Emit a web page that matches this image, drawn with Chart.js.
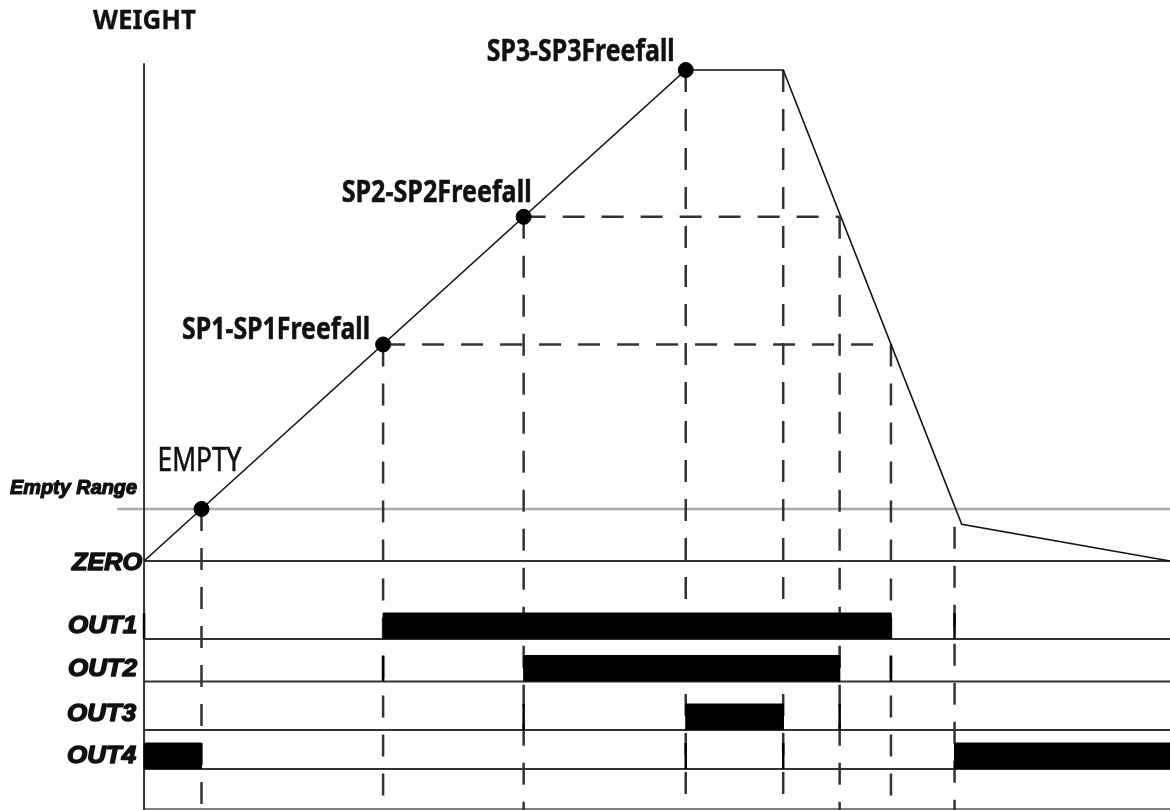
<!DOCTYPE html>
<html>
<head>
<meta charset="utf-8">
<title>Weight / Output timing</title>
<script src="https://cdn.jsdelivr.net/npm/chart.js@4.4.0/dist/chart.umd.min.js"></script>
<style>
  html, body { margin: 0; padding: 0; background: #fff; }
  #wrap { width: 1170px; height: 810px; }
</style>
</head>
<body>
<div id="wrap"><canvas id="timing" width="1170" height="810"></canvas></div>
<script>
// ---- data (time in % of cycle, weight in % of SP3) ----
const axisTitle = 'WEIGHT';
const weightTimes = [0, 52.8, 62.3, 79.7, 100];
const weightValues = [0, 100, 100, 7.5, 0];

const setPointNames = ['EMPTY', 'SP1-SP1Freefall', 'SP2-SP2Freefall', 'SP3-SP3Freefall'];
const setPointTimes = [5.6, 23.3, 37.0, 52.8];
const setPointValues = [10.6, 44.1, 70.1, 100];
const emptyRange = 10.6;

// where the discharge crosses SP3 hold end, SP2, SP1 and empty
const releaseTimes = [62.3, 67.8, 72.8, 79.0];
const releaseValues = [100, 70.1, 44.1, 7];

const levelNames = ['Empty Range', 'ZERO'];
const outputNames = ['OUT1', 'OUT2', 'OUT3', 'OUT4'];
const outputOn = [
  [[23.3, 72.8]],
  [[37.0, 67.8]],
  [[52.8, 62.3]],
  [[0, 5.6], [79.0, 100]]
];
const outputEdges = [[0, 79.0], [23.3, 72.8], [37.0, 67.8], [52.8, 62.3]];

// ---- layout (scale ranges, row levels, label boxes) ----
const X_MIN = -14.04, X_MAX = 100;
const W_MIN = -50.71, W_MAX = 114.26;
const R_MIN = 0.054, R_MAX = 18.747;
const rowLevels = [4, 3.02, 1.9, 1];
const highHeight = 0.6;
const edgeHeight = 0.6;
const axisTop = 101.4;
const rangeStart = -2.63;
const bottomLevel = 0.077;

const INK = '#111';
const LINE = '#333';
const DASH = [22, 17];

function seg(points, opts) {
  return Object.assign({
    data: points,
    showLine: true,
    pointRadius: 0,
    borderColor: LINE,
    borderWidth: 2,
    fill: false,
    tension: 0,
    yAxisID: 'y'
  }, opts || {});
}

const datasets = [];

// vertical axis
datasets.push(seg([{ x: 0, y: W_MIN }, { x: 0, y: axisTop }], { order: 6 }));

// zero and empty range lines
datasets.push(seg([{ x: 0, y: 0 }, { x: X_MAX, y: 0 }], { order: 6 }));
datasets.push(seg([{ x: rangeStart, y: emptyRange }, { x: X_MAX, y: emptyRange }],
  { borderColor: '#ababab', borderWidth: 2.5, order: 7 }));

// output baselines
rowLevels.forEach((lv) => {
  datasets.push(seg([{ x: 0, y: lv }, { x: X_MAX, y: lv }], { yAxisID: 'y2', order: 6 }));
});
datasets.push(seg([{ x: 0, y: bottomLevel }, { x: X_MAX, y: bottomLevel }],
  { yAxisID: 'y2', borderColor: '#555', borderWidth: 1.5, order: 6 }));

// dashed guides
setPointTimes.forEach((t, i) => {
  datasets.push(seg([{ x: t, y: setPointValues[i] }, { x: t, y: W_MIN }],
    { borderDash: DASH, borderWidth: 2.5, order: 5 }));
});
releaseTimes.forEach((t, i) => {
  datasets.push(seg([{ x: t, y: releaseValues[i] }, { x: t, y: W_MIN }],
    { borderDash: DASH, borderWidth: 2.5, order: 5 }));
});
datasets.push(seg([{ x: setPointTimes[1], y: setPointValues[1] }, { x: releaseTimes[2], y: setPointValues[1] }],
  { borderDash: DASH, borderWidth: 2.5, order: 5 }));
datasets.push(seg([{ x: setPointTimes[2], y: setPointValues[2] }, { x: releaseTimes[1], y: setPointValues[2] }],
  { borderDash: DASH, borderWidth: 2.5, order: 5 }));

// output "on" blocks
outputOn.forEach((spans, r) => {
  const base = rowLevels[r];
  spans.forEach(([t0, t1]) => {
    datasets.push(seg([
      { x: t0, y: base }, { x: t0, y: base + highHeight },
      { x: t1, y: base + highHeight }, { x: t1, y: base }
    ], {
      yAxisID: 'y2',
      borderColor: '#000',
      borderWidth: 1,
      backgroundColor: '#000',
      fill: { value: base },
      order: 3
    }));
  });
});

// output switching edges
outputEdges.forEach((edges, r) => {
  const base = rowLevels[r];
  edges.forEach((t) => {
    datasets.push(seg([{ x: t, y: base }, { x: t, y: base + edgeHeight }],
      { yAxisID: 'y2', borderColor: '#000', borderWidth: 2.5, order: 4 }));
  });
});

// weight trace
datasets.push(seg(weightTimes.map((t, i) => ({ x: t, y: weightValues[i] })),
  { borderColor: INK, borderWidth: 1.6, order: 2 }));

// set point dots
datasets.push({
  data: setPointTimes.map((t, i) => ({ x: t, y: setPointValues[i] })),
  showLine: false,
  pointRadius: 7.5,
  pointBackgroundColor: '#000',
  pointBorderColor: '#000',
  yAxisID: 'y',
  order: 1
});

function fitText(ctx, text, font, left, baseline, width, stroke) {
  ctx.font = font;
  const w = ctx.measureText(text).width;
  ctx.save();
  ctx.translate(left, baseline);
  ctx.scale(width / w, 1);
  ctx.textAlign = 'left';
  ctx.textBaseline = 'alphabetic';
  ctx.fillStyle = INK;
  ctx.fillText(text, 0, 0);
  if (stroke) {
    ctx.strokeStyle = INK;
    ctx.lineWidth = stroke;
    ctx.lineJoin = 'round';
    ctx.strokeText(text, 0, 0);
  }
  ctx.restore();
}

const pointLabelBoxes = [
  { font: '33px "Noto Sans"', dx: -44, dy: -38, w: 84, stroke: 0.6 },
  { font: 'bold 30px "Noto Sans"', dx: -201, dy: -5, w: 188, stroke: 0.5 },
  { font: 'bold 30px "Noto Sans"', dx: -182, dy: -15, w: 190, stroke: 0.5 },
  { font: 'bold 30px "Noto Sans"', dx: -199, dy: -9, w: 188, stroke: 0.5 }
];
const sideFont = '"Liberation Sans", Arial, sans-serif';

const labelPlugin = {
  id: 'labels',
  afterDatasetsDraw(chart) {
    const { ctx } = chart;
    const xs = chart.scales.x, ys = chart.scales.y, rs = chart.scales.y2;
    const x0 = xs.getPixelForValue(0);

    fitText(ctx, axisTitle, 'bold 26px "Noto Sans"', x0 - 51, ys.getPixelForValue(axisTop) - 34, 103, 0.3);

    setPointNames.forEach((name, i) => {
      const b = pointLabelBoxes[i];
      const px = xs.getPixelForValue(setPointTimes[i]);
      const py = ys.getPixelForValue(setPointValues[i]);
      fitText(ctx, name, b.font, px + b.dx, py + b.dy, b.w, b.stroke);
    });

    fitText(ctx, levelNames[0], 'italic bold 20px ' + sideFont,
      x0 - 134, ys.getPixelForValue(emptyRange) - 15, 127, 1.2);
    fitText(ctx, levelNames[1], 'italic bold 24px ' + sideFont,
      x0 - 72, ys.getPixelForValue(0) + 9, 70, 1.4);

    const outDy = [-6, -5.5, -9, -6];
    const outLeft = [76, 76, 77, 77];
    outputNames.forEach((name, r) => {
      fitText(ctx, name, 'italic bold 23px ' + sideFont,
        x0 - outLeft[r], rs.getPixelForValue(rowLevels[r]) + outDy[r], 69, 1.4);
    });
  }
};

new Chart(document.getElementById('timing'), {
  type: 'scatter',
  data: { datasets },
  options: {
    responsive: false,
    animation: false,
    devicePixelRatio: 1,
    layout: { padding: 0, autoPadding: false },
    scales: {
      x: { type: 'linear', min: X_MIN, max: X_MAX, display: false },
      y: { type: 'linear', min: W_MIN, max: W_MAX, display: false },
      y2: { type: 'linear', min: R_MIN, max: R_MAX, display: false }
    },
    plugins: {
      legend: { display: false },
      tooltip: { enabled: false }
    },
    elements: { line: { borderCapStyle: 'butt' } }
  },
  plugins: [labelPlugin]
});
</script>
</body>
</html>
